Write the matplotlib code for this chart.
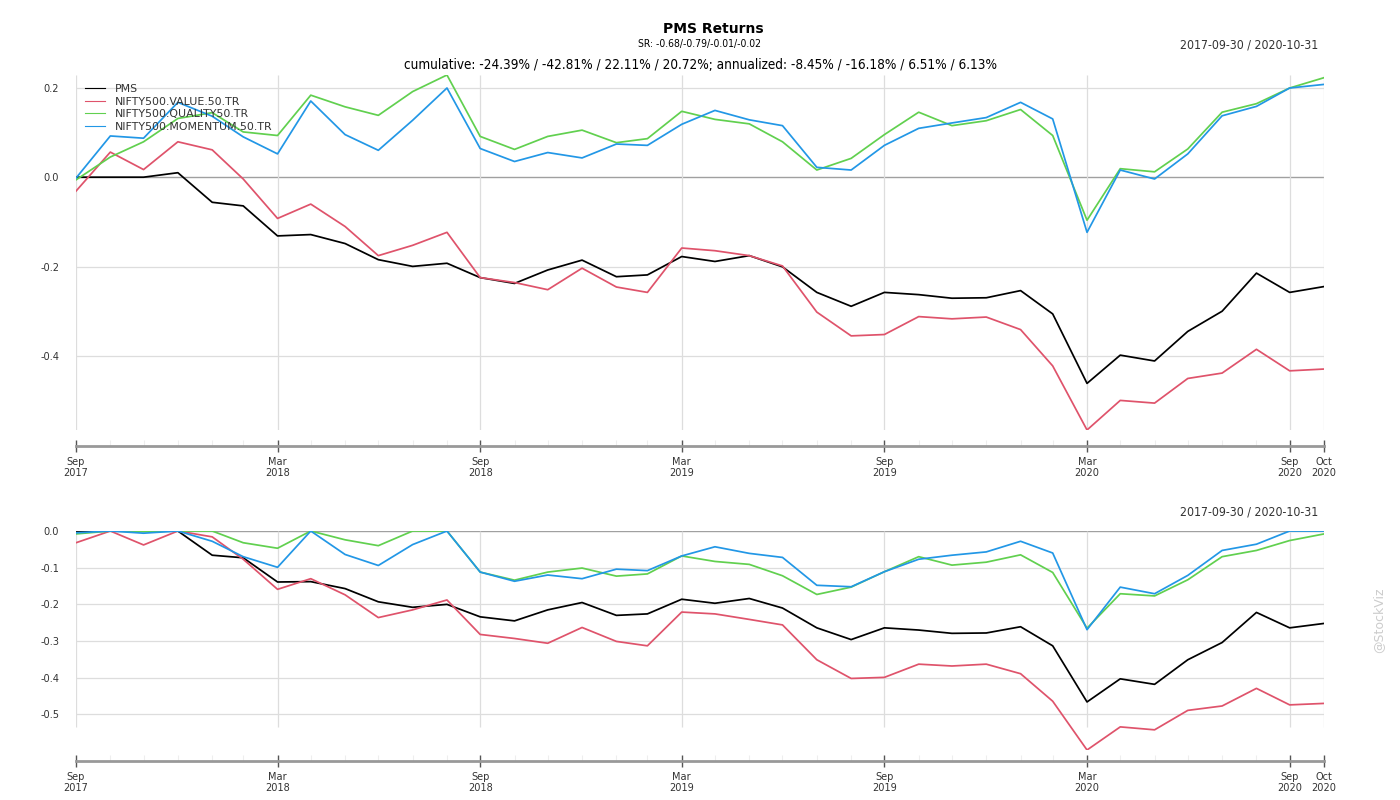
import pandas as pd
import matplotlib
matplotlib.use("Agg")
import matplotlib.pyplot as plt
import matplotlib.dates as mdates

dates = pd.date_range("2017-09-30", "2020-10-31", freq="ME")

names = ["PMS", "NIFTY500.VALUE.50.TR", "NIFTY500.QUALITY50.TR", "NIFTY500.MOMENTUM.50.TR"]
colors = ["#000000", "#DF536B", "#61D04F", "#2297E6"]

# cumulative returns
cum_pms = [0.0, 0.0, 0.0, 0.010, -0.056, -0.064, -0.131, -0.128, -0.148, -0.184,
           -0.199, -0.192, -0.224, -0.237, -0.207, -0.185, -0.222, -0.218, -0.177, -0.188,
           -0.175, -0.200, -0.257, -0.288, -0.257, -0.262, -0.270, -0.269, -0.253, -0.305,
           -0.460, -0.397, -0.410, -0.344, -0.299, -0.214, -0.257, -0.244]
cum_value = [-0.031, 0.056, 0.017, 0.079, 0.061, -0.004, -0.092, -0.060, -0.110, -0.175,
             -0.152, -0.123, -0.224, -0.235, -0.251, -0.203, -0.245, -0.257, -0.158, -0.164,
             -0.175, -0.198, -0.301, -0.354, -0.351, -0.311, -0.316, -0.312, -0.340, -0.421,
             -0.564, -0.498, -0.504, -0.449, -0.437, -0.384, -0.432, -0.428]
cum_quality = [-0.006, 0.045, 0.079, 0.131, 0.144, 0.101, 0.093, 0.183, 0.157, 0.138,
               0.191, 0.228, 0.091, 0.062, 0.091, 0.105, 0.077, 0.086, 0.147, 0.129,
               0.119, 0.079, 0.016, 0.042, 0.095, 0.145, 0.115, 0.126, 0.151, 0.093,
               -0.096, 0.019, 0.012, 0.063, 0.145, 0.164, 0.199, 0.222]
cum_momentum = [-0.002, 0.092, 0.087, 0.167, 0.136, 0.090, 0.052, 0.170, 0.095, 0.060,
                0.127, 0.199, 0.064, 0.035, 0.055, 0.043, 0.074, 0.071, 0.118, 0.149,
                0.128, 0.115, 0.022, 0.016, 0.071, 0.109, 0.121, 0.133, 0.167, 0.130,
                -0.123, 0.016, -0.004, 0.052, 0.137, 0.158, 0.199, 0.207]

# drawdowns
dd_pms = [0.0, 0.0, 0.0, 0.0, -0.066, -0.073, -0.139, -0.138, -0.157, -0.193,
          -0.208, -0.200, -0.234, -0.245, -0.215, -0.195, -0.230, -0.226, -0.186, -0.197,
          -0.184, -0.210, -0.264, -0.296, -0.264, -0.270, -0.279, -0.278, -0.261, -0.313,
          -0.466, -0.403, -0.418, -0.351, -0.304, -0.222, -0.264, -0.252]
dd_value = [-0.032, 0.0, -0.038, 0.0, -0.016, -0.077, -0.159, -0.130, -0.174, -0.236,
            -0.215, -0.188, -0.282, -0.293, -0.306, -0.263, -0.301, -0.313, -0.221, -0.226,
            -0.241, -0.256, -0.351, -0.402, -0.399, -0.363, -0.368, -0.363, -0.389, -0.464,
            -0.597, -0.534, -0.542, -0.489, -0.477, -0.429, -0.474, -0.470]
dd_quality = [-0.008, 0.0, -0.002, 0.0, 0.0, -0.032, -0.047, 0.0, -0.024, -0.040,
              0.0, 0.0, -0.112, -0.134, -0.112, -0.101, -0.123, -0.117, -0.068, -0.083,
              -0.091, -0.122, -0.173, -0.153, -0.111, -0.070, -0.093, -0.085, -0.065, -0.113,
              -0.265, -0.171, -0.177, -0.133, -0.070, -0.053, -0.026, -0.008]
dd_momentum = [-0.005, 0.0, -0.006, 0.0, -0.028, -0.070, -0.099, 0.0, -0.064, -0.094,
               -0.037, 0.0, -0.112, -0.137, -0.120, -0.130, -0.104, -0.108, -0.068, -0.043,
               -0.061, -0.072, -0.148, -0.152, -0.111, -0.077, -0.066, -0.057, -0.028, -0.060,
               -0.269, -0.153, -0.171, -0.121, -0.053, -0.036, 0.0, 0.0]

cum_series = [cum_pms, cum_value, cum_quality, cum_momentum]
dd_series = [dd_pms, dd_value, dd_quality, dd_momentum]

title = "PMS Returns"
sr_text = "SR: -0.68/-0.79/-0.01/-0.02"
stats_text = ("cumulative: -24.39% / -42.81% / 22.11% / 20.72%; "
              "annualized: -8.45% / -16.18% / 6.51% / 6.13%")
range_text = "2017-09-30 / 2020-10-31"

top_yticks = [-0.4, -0.2, 0.0, 0.2]
bot_yticks = [-0.5, -0.4, -0.3, -0.2, -0.1, 0.0]
major_idx = [0, 6, 12, 18, 24, 30, 36, 37]
major_dates = [dates[i] for i in major_idx]

W, H = 1400, 800
fig = plt.figure(figsize=(14, 8), dpi=100)

def fx(px):
    return px / W

def fy(py):
    return 1 - py / H

left, right = 76, 1324
txt = "#333333"
cond = dict(fontstretch="condensed")


def panel(y_top, y_bot, series, yticks, vgrid_bottom=None):
    ax = fig.add_axes([fx(left), fy(y_bot), fx(right - left), fy(y_top) - fy(y_bot)])
    allv = [v for s in series for v in s]
    ax.set_ylim(min(allv), max(allv))
    ax.set_xlim(dates[0], dates[-1])
    for y in yticks:
        if y == 0:
            ax.axhline(0, color="#a0a0a0", lw=1.0, zorder=1)
        else:
            ax.axhline(y, color="#dddddd", lw=0.9, zorder=1)
    lo = min(allv) if vgrid_bottom is None else vgrid_bottom
    ax.vlines(major_dates, lo, max(allv), color="#dddddd", lw=0.9, zorder=1)
    for s, c, n in zip(series, colors, names):
        ax.plot(dates, s, color=c, lw=1.25, label=n, zorder=3)
    ax.set_yticks(yticks)
    ax.set_yticklabels([f"{t:.1f}" for t in yticks], fontsize=7.8, color=txt, **cond)
    ax.tick_params(axis="y", length=0, pad=12)
    ax.set_xticks([])
    for sp in ax.spines.values():
        sp.set_visible(False)
    ax.patch.set_alpha(0)
    return ax


def xaxis(y_line):
    ax = fig.add_axes([fx(left), fy(y_line), fx(right - left), 0.0001])
    ax.set_xlim(dates[0], dates[-1])
    ax.set_yticks([])
    for k in ["top", "left", "right"]:
        ax.spines[k].set_visible(False)
    ax.spines["bottom"].set_color("#999999")
    ax.spines["bottom"].set_linewidth(2)
    ax.set_xticks(major_dates)
    ax.set_xticklabels([d.strftime("%b\n%Y") for d in major_dates],
                       fontsize=7.8, color=txt, linespacing=1.05, **cond)
    ax.set_xticks(list(dates), minor=True)
    ax.tick_params(axis="x", which="major", direction="inout", length=8,
                   color="#555555", width=1, pad=4)
    ax.tick_params(axis="x", which="minor", direction="in", length=4,
                   color="#eeeeee", width=0.8)
    ax.patch.set_alpha(0)
    return ax


ax1 = panel(75, 430, cum_series, top_yticks)
xaxis(446)
ax2 = panel(531, 750, dd_series, bot_yticks, vgrid_bottom=-0.533)
xaxis(761)

ax1.legend(loc="upper left", bbox_to_anchor=(0.0, 1.0), frameon=False,
           fontsize=7.9, handlelength=1.8, handletextpad=0.9, labelspacing=0.25,
           borderaxespad=0.4, labelcolor=txt)
for ln in ax1.get_legend().get_lines():
    ln.set_linewidth(0.8)

fig.text(fx(713), fy(29), title, ha="center", va="center", fontsize=10, fontweight="bold")
fig.text(fx(700), fy(44), sr_text, ha="center", va="center", fontsize=7.5, **cond)
fig.text(fx(700), fy(65), stats_text, ha="center", va="center", fontsize=9.75, **cond)
fig.text(fx(1318), fy(45), range_text, ha="right", va="center", fontsize=8.8, color=txt, **cond)
fig.text(fx(1318), fy(512), range_text, ha="right", va="center", fontsize=8.8, color=txt, **cond)
fig.text(fx(1379), fy(620), "@StockViz", ha="center", va="center", rotation=90,
         fontsize=9, color="#cccccc")

fig.savefig("out.png", dpi=100)
